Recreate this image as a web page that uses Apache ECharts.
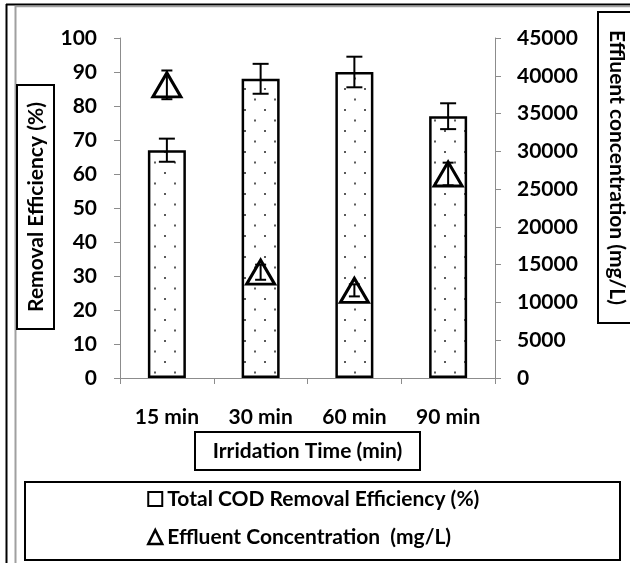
<!DOCTYPE html>
<html>
<head>
<meta charset="utf-8">
<script src="https://cdn.jsdelivr.net/npm/echarts@6/dist/echarts.min.js"></script>
<style>html,body{margin:0;padding:0;background:#fff}#c{width:630px;height:563px}</style>
</head>
<body>
<div id="c"></div>
<script>
// ---- data ----
const categories = ['15 min', '30 min', '60 min', '90 min'];
const removalEfficiency = [67, 88, 90, 77];          // %
const removalError = [3.4, 4.4, 4.5, 3.8];           // %
const effluentConc = [38800, 14000, 11600, 27000];   // mg/L
const effluentError = [1900, 1000, 800, 1500];       // mg/L
const leftAxis = { min: 0, max: 100, interval: 10 };
const rightAxis = { min: 0, max: 45000, interval: 5000 };
const barName = 'Total COD Removal Efficiency (%)';
const markerName = 'Effluent Concentration  (mg/L)';
const xTitle = 'Irridation Time (min)';
const yLeftTitle = 'Removal Efficiency (%)';
const yRightTitle = 'Effluent concentration (mg/L)';

// dotted pattern for the bars
const tile = document.createElement('canvas');
tile.width = 20; tile.height = 21;
(function () {
  const g = tile.getContext('2d');
  g.fillStyle = '#fff'; g.fillRect(0, 0, 20, 21);
  g.fillStyle = '#5a5a5a';
  g.fillRect(4, 4, 2, 2);
  g.fillRect(14, 14.5, 2, 2);
})();

const FONT = 'Lato';
const FS = 21;
const axisGray = '#8c8c8c';

function errorBars(capW) {
  return function (params, api) {
    const i = api.value(0), v = api.value(1), e = api.value(2);
    const hi = api.coord([i, v + e]);
    const lo = api.coord([i, v - e]);
    const x = hi[0];
    const st = { stroke: '#000', lineWidth: 2 };
    return {
      type: 'group',
      children: [
        { type: 'line', shape: { x1: x, y1: hi[1], x2: x, y2: lo[1] }, style: st },
        { type: 'line', shape: { x1: x - capW / 2, y1: hi[1], x2: x + capW / 2, y2: hi[1] }, style: st },
        { type: 'line', shape: { x1: x - capW / 2, y1: lo[1], x2: x + capW / 2, y2: lo[1] }, style: st }
      ]
    };
  };
}

const labelStyle = { fontFamily: FONT, fontWeight: 'bold', fontSize: FS, color: '#000' };
const titleFont = 'bold ' + FS + 'px Lato';

const chart = echarts.init(document.getElementById('c'));
chart.setOption({
  animation: false,
  backgroundColor: '#fff',
  grid: { left: 120, right: 135, top: 38, bottom: 185 },
  xAxis: {
    type: 'category',
    data: categories,
    axisLine: { lineStyle: { color: axisGray, width: 1 } },
    axisTick: { show: true, length: 6, lineStyle: { color: axisGray } },
    axisLabel: Object.assign({ margin: 27, lineHeight: 24 }, labelStyle),
    splitLine: { show: false }
  },
  yAxis: [
    {
      type: 'value', position: 'left',
      min: leftAxis.min, max: leftAxis.max, interval: leftAxis.interval,
      axisLine: { show: true, lineStyle: { color: axisGray, width: 1 } },
      axisTick: { show: true, length: 6, lineStyle: { color: axisGray } },
      axisLabel: Object.assign({ margin: 23 }, labelStyle),
      splitLine: { show: false }
    },
    {
      type: 'value', position: 'right',
      min: rightAxis.min, max: rightAxis.max, interval: rightAxis.interval,
      axisLine: { show: true, lineStyle: { color: axisGray, width: 1 } },
      axisTick: { show: true, length: 6, lineStyle: { color: axisGray } },
      axisLabel: Object.assign({ margin: 22, formatter: v => String(v) }, labelStyle),
      splitLine: { show: false }
    }
  ],
  legend: {
    orient: 'vertical', left: 147, top: 487, padding: 0,
    itemGap: 14, itemWidth: 14, itemHeight: 14,
    selectedMode: false,
    textStyle: { fontFamily: FONT, fontWeight: 'bold', fontSize: FS, color: '#000', lineHeight: 24 },
    data: [
      { name: barName, icon: 'rect', itemStyle: { color: '#fff', borderColor: '#000', borderWidth: 2 } },
      { name: markerName, icon: 'triangle', itemStyle: { color: '#fff', borderColor: '#000', borderWidth: 2.5 } }
    ]
  },
  series: [
    {
      name: barName, type: 'bar', yAxisIndex: 0, barWidth: 38,
      data: removalEfficiency,
      itemStyle: { color: { image: tile, repeat: 'repeat' }, borderColor: '#000', borderWidth: 2.5 },
      z: 2
    },
    {
      name: 'barErr', type: 'custom', yAxisIndex: 0,
      data: categories.map((c, i) => [i, removalEfficiency[i], removalError[i]]),
      encode: { x: 0, y: 1 },
      renderItem: errorBars(16), z: 5
    },
    {
      name: markerName, type: 'scatter', yAxisIndex: 1,
      data: effluentConc,
      symbol: 'triangle', symbolSize: [28, 24],
      itemStyle: { color: '#fff', borderColor: '#000', borderWidth: 3, opacity: 1 },
      z: 4
    },
    {
      name: 'effErr', type: 'custom', yAxisIndex: 1,
      data: categories.map((c, i) => [i, effluentConc[i], effluentError[i]]),
      encode: { x: 0, y: 1 },
      renderItem: errorBars(11), z: 6
    }
  ],
  graphic: [
    { type: 'line', shape: { x1: 6.5, y1: 4, x2: 6.5, y2: 563 }, style: { stroke: '#000', lineWidth: 2 } },
    { type: 'line', shape: { x1: 6, y1: 4.5, x2: 630, y2: 4.5 }, style: { stroke: '#000', lineWidth: 2 } },
    { type: 'line', shape: { x1: 15.5, y1: 6, x2: 15.5, y2: 563 }, style: { stroke: '#a0a0a0', lineWidth: 2 } },
    { type: 'line', shape: { x1: 15, y1: 6.5, x2: 630, y2: 6.5 }, style: { stroke: '#a0a0a0', lineWidth: 1.5 } },
    { type: 'rect', shape: { x: 17, y: 85, width: 37, height: 244 }, style: { fill: '#fff', stroke: '#000', lineWidth: 2 } },
    { type: 'text', x: 36, y: 207, rotation: Math.PI / 2,
      style: { text: yLeftTitle, font: titleFont, fill: '#000', align: 'center', verticalAlign: 'middle', textAlign: 'center', textVerticalAlign: 'middle' } },
    { type: 'rect', shape: { x: 598, y: 12, width: 42, height: 311 }, style: { fill: '#fff', stroke: '#000', lineWidth: 2 } },
    { type: 'text', x: 617, y: 167.5, rotation: -Math.PI / 2,
      style: { text: yRightTitle, font: titleFont, fill: '#000', align: 'center', verticalAlign: 'middle', textAlign: 'center', textVerticalAlign: 'middle' } },
    { type: 'rect', shape: { x: 195, y: 432, width: 225, height: 38 }, style: { fill: '#fff', stroke: '#000', lineWidth: 2 } },
    { type: 'text', x: 307.5, y: 451,
      style: { text: xTitle, font: titleFont, fill: '#000', align: 'center', verticalAlign: 'middle', textAlign: 'center', textVerticalAlign: 'middle' } },
    { type: 'rect', z: -1, shape: { x: 25, y: 482, width: 595, height: 78 }, style: { fill: 'none', stroke: '#000', lineWidth: 2 } }
  ]
});
</script>
</body>
</html>
